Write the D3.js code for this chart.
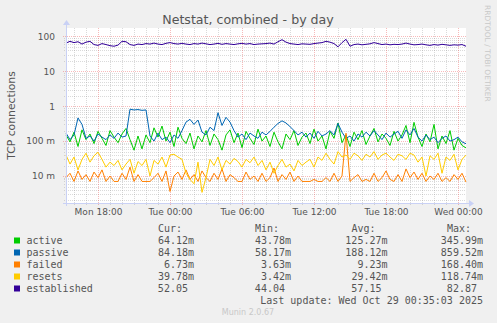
<!DOCTYPE html>
<html>
<head>
<meta charset="utf-8">
<script src="https://cdn.jsdelivr.net/npm/d3@7"></script>
<style>
body { margin: 0; background: #f0f0f0; }
text { font-family: "DejaVu Sans", sans-serif; fill: #555; }
.mono { font-family: "DejaVu Sans Mono", monospace; font-size: 10px; }
</style>
</head>
<body>
<script>
// series, in draw order
const seriesNames = ["active", "passive", "failed", "resets", "established"];
const seriesColors = ["#00cc00", "#0066b3", "#ff8000", "#ffcc00", "#330099"];

// legend stats as printed by munin
const curVals = ["64.12m", "84.18m", "6.73m", "39.78m", "52.05"];
const minVals = ["43.78m", "58.17m", "3.63m", "3.42m", "44.04"];
const avgVals = ["125.27m", "188.12m", "9.23m", "29.42m", "57.15"];
const maxVals = ["345.99m", "859.52m", "168.40m", "118.74m", "82.87"];

const yTickVals = [0.01, 0.1, 1, 10, 100];
const yTickLabels = ["10 m", "100 m", "1", "10", "100"];

// one sample every 20 minutes, Mon 15:20 -> Wed 00:40 (UTC)
const startTime = Date.UTC(2025, 9, 27, 15, 20);
const endTime = Date.UTC(2025, 9, 29, 0, 40);
const stepMin = 20;

// values in milli (m) for the first four, plain for established
const activeVals = [150, 95, 180, 70, 210, 110, 160, 85, 190, 120,
  75, 200, 130, 90, 160, 230, 110, 55, 140, 60,
  150, 90, 240, 130, 270, 100, 180, 70, 250, 120,
  85, 170, 60, 140, 95, 200, 75, 160, 110, 55,
  150, 210, 90, 170, 65, 190, 120, 80, 220, 100,
  140, 70, 180, 95, 60, 160, 110, 200, 75, 130,
  170, 85, 220, 100, 140, 60, 190, 120, 330, 90,
  150, 70, 180, 110, 200, 80, 140, 230, 95, 160,
  120, 75, 190, 100, 150, 280, 90, 345, 130, 70,
  160, 95, 300, 60, 140, 85, 200, 55, 120, 75, 64];
const passiveVals = [170, 110, 150, 460, 300, 120, 140, 100, 160, 130,
  110, 150, 120, 170, 130, 140, 820, 780, 800, 760,
  780, 140, 100, 170, 110, 130, 90, 150, 120, 200,
  350, 420, 300, 400, 180, 150, 250, 200, 650, 280,
  480, 350, 200, 130, 160, 110, 170, 140, 120, 180,
  150, 190, 250, 320, 380, 330, 260, 200, 150, 180,
  130, 170, 120, 190, 140, 160, 200, 150, 320, 180,
  120, 140, 100, 160, 130, 180, 140, 200, 150, 110,
  170, 130, 160, 190, 120, 210, 150, 230, 130, 100,
  150, 110, 130, 90, 120, 140, 100, 110, 130, 95, 84];
const failedVals = [9, 12, 7, 14, 8, 11, 7, 13, 9, 15,
  7, 10, 7, 7, 12, 8, 18, 7, 11, 7,
  7, 7, 9, 12, 7, 14, 3.6, 10, 13, 8,
  15, 8, 11, 7, 14, 9, 7, 12, 8, 16,
  7, 11, 9, 7, 7, 13, 8, 10, 7, 12,
  7, 9, 17, 7, 11, 8, 13, 7, 10, 7,
  7, 7, 8, 7, 7, 9, 7, 12, 7, 10,
  168, 7, 9, 11, 7, 8, 7, 12, 7, 9,
  14, 8, 7, 11, 7, 16, 9, 13, 8, 12,
  7, 10, 8, 12, 7, 9, 7, 11, 8, 12, 6.7];
const resetsVals = [40, 22, 35, 15, 30, 45, 25, 38, 48, 30,
  18, 25, 20, 28, 15, 22, 30, 12, 26, 20,
  30, 10, 28, 22, 35, 18, 40, 42, 35, 30,
  12, 8, 6, 25, 3.4, 9, 30, 20, 35, 15,
  28, 22, 32, 26, 18, 30, 24, 35, 20, 28,
  15, 25, 12, 20, 30, 18, 22, 14, 28, 20,
  25, 30, 18, 35, 28, 45, 30, 22, 50, 35,
  40, 30, 45, 38, 28, 42, 35, 50, 30, 40,
  45, 35, 28, 42, 38, 30, 45, 40, 25, 35,
  10, 38, 30, 45, 12, 35, 28, 42, 15, 30, 39.78];
const establishedVals = [64, 72, 66, 70, 60, 68, 72, 58, 55, 62,
  58, 54, 52, 56, 72, 70, 58, 55, 60, 58,
  62, 60, 64, 60, 58, 63, 66, 62, 60, 63,
  60, 58, 62, 60, 64, 61, 58, 60, 63, 59,
  62, 60, 58, 61, 63, 60, 62, 58, 60, 61,
  62, 64, 60, 70, 80, 68, 62, 60, 58, 61,
  60, 59, 62, 64, 66, 72, 68, 62, 50, 66,
  82, 52, 58, 60, 57, 59, 61, 66, 62, 58,
  60, 57, 59, 58, 60, 64, 60, 57, 58, 60,
  57, 55, 58, 56, 59, 57, 55, 57, 56, 58, 52.05];

const seriesVals = [
  activeVals.map(v => v / 1000),
  passiveVals.map(v => v / 1000),
  failedVals.map(v => v / 1000),
  resetsVals.map(v => v / 1000),
  establishedVals
];

const svg = d3.select("body").append("svg")
  .attr("width", 497)
  .attr("height", 323);

const plotLeft = 66, plotRight = 466, plotTop = 28, plotBottom = 203;

const x = d3.scaleUtc()
  .domain([new Date(startTime), new Date(endTime)])
  .range([plotLeft, plotRight]);

const y = d3.scaleLog()
  .domain([0.00169, 173])
  .range([plotBottom, plotTop]);

// canvas
svg.append("rect")
  .attr("x", plotLeft).attr("y", plotTop)
  .attr("width", plotRight - plotLeft).attr("height", plotBottom - plotTop)
  .attr("fill", "#fff");

// grid - minor hours and 2..9 per decade
const hours = d3.utcHour.range(new Date(startTime), new Date(endTime));
const minorY = [];
d3.range(-3, 3).forEach(k => {
  d3.range(2, 10).forEach(m => {
    const v = m * Math.pow(10, k);
    if (v > y.domain()[0] && v < y.domain()[1]) minorY.push(v);
  });
});

const minorColor = "rgba(140,140,140,0.32)";
const majorColor = "rgba(235,90,90,0.42)";
const grid = svg.append("g").attr("shape-rendering", "crispEdges");

grid.selectAll(".minor-y")
  .data(minorY)
  .join("line")
  .attr("class", "minor-y")
  .attr("x1", plotLeft - 2).attr("x2", plotRight)
  .attr("y1", d => Math.round(y(d)) + 0.5).attr("y2", d => Math.round(y(d)) + 0.5)
  .attr("stroke", minorColor)
  .attr("stroke-dasharray", "1,1");

grid.selectAll(".minor-x")
  .data(hours.filter(d => d.getUTCHours() % 6 != 0))
  .join("line")
  .attr("class", "minor-x")
  .attr("x1", d => Math.round(x(d)) + 0.5).attr("x2", d => Math.round(x(d)) + 0.5)
  .attr("y1", plotTop).attr("y2", plotBottom + 2)
  .attr("stroke", minorColor)
  .attr("stroke-dasharray", "1,1");

grid.selectAll(".major-y")
  .data(yTickVals)
  .join("line")
  .attr("class", "major-y")
  .attr("x1", plotLeft - 3).attr("x2", plotRight)
  .attr("y1", d => Math.round(y(d)) + 0.5).attr("y2", d => Math.round(y(d)) + 0.5)
  .attr("stroke", majorColor)
  .attr("stroke-dasharray", "1,1");

grid.selectAll(".major-x")
  .data(hours.filter(d => d.getUTCHours() % 6 == 0))
  .join("line")
  .attr("class", "major-x")
  .attr("x1", d => Math.round(x(d)) + 0.5).attr("x2", d => Math.round(x(d)) + 0.5)
  .attr("y1", plotTop).attr("y2", plotBottom + 3)
  .attr("stroke", majorColor)
  .attr("stroke-dasharray", "1,1");

// lines
const line = d3.line()
  .x((d, i) => x(new Date(startTime + i * stepMin * 60000)))
  .y(d => y(d));

svg.selectAll(".series")
  .data(seriesVals)
  .join("path")
  .attr("class", "series")
  .attr("d", d => line(d))
  .attr("fill", "none")
  .attr("stroke", (d, i) => seriesColors[i])
  .attr("stroke-width", 1);

// axes arrows
const axisColor = "#c9d1f5";
svg.append("line")
  .attr("x1", plotLeft - 3).attr("x2", plotRight + 4)
  .attr("y1", plotBottom + 0.5).attr("y2", plotBottom + 0.5)
  .attr("stroke", axisColor);
svg.append("path")
  .attr("d", `M${plotRight + 3},${plotBottom - 3}L${plotRight + 8},${plotBottom + 0.5}L${plotRight + 3},${plotBottom + 4}Z`)
  .attr("fill", axisColor);
svg.append("line")
  .attr("x1", plotLeft + 0.5).attr("x2", plotLeft + 0.5)
  .attr("y1", plotBottom + 3).attr("y2", plotTop - 4)
  .attr("stroke", axisColor);
svg.append("path")
  .attr("d", `M${plotLeft - 3},${plotTop - 3}L${plotLeft + 0.5},${plotTop - 8}L${plotLeft + 4},${plotTop - 3}Z`)
  .attr("fill", axisColor);

// axis labels
const yAxis = svg.append("g")
  .attr("transform", `translate(${plotLeft},0)`)
  .call(d3.axisLeft(y).tickValues(yTickVals)
    .tickFormat((d, i) => yTickLabels[i]).tickSize(0).tickPadding(11));
yAxis.select(".domain").remove();
yAxis.selectAll("text")
  .attr("font-family", "DejaVu Sans").attr("font-size", 9).attr("fill", "#555");

const xAxis = svg.append("g")
  .attr("transform", `translate(0,${plotBottom})`)
  .call(d3.axisBottom(x).tickValues(hours.filter(d => d.getUTCHours() % 6 == 0))
    .tickFormat(d3.utcFormat("%a %H:%M")).tickSize(0).tickPadding(6));
xAxis.select(".domain").remove();
xAxis.selectAll("text")
  .attr("font-family", "DejaVu Sans").attr("font-size", 9).attr("fill", "#555");

// titles
svg.append("text")
  .attr("x", 248).attr("y", 24)
  .attr("text-anchor", "middle")
  .attr("font-size", 12.6)
  .text("Netstat, combined - by day");

svg.append("text")
  .attr("transform", "translate(15,115.5) rotate(-90)")
  .attr("text-anchor", "middle")
  .attr("font-size", 10.8)
  .text("TCP connections");

svg.append("text")
  .attr("transform", "translate(485,5) rotate(90)")
  .attr("font-size", 7.5)
  .style("fill", "#c8c8c8")
  .text("RRDTOOL / TOBI OETIKER");

// legend
const charW = 6.02;
const colRight = [194, 291, 387.5, 483];
const colHead = ["Cur:", "Min:", "Avg:", "Max:"];
const rowY = i => 243.5 + i * 12;

svg.selectAll(".head")
  .data(colHead)
  .join("text")
  .attr("class", "head mono")
  .attr("x", (d, i) => colRight[i] - 6 * charW)
  .attr("y", 231.5)
  .text(d => d);

svg.selectAll(".swatch")
  .data(seriesNames)
  .join("rect")
  .attr("class", "swatch")
  .attr("x", 14).attr("y", (d, i) => rowY(i) - 6)
  .attr("width", 6).attr("height", 6)
  .attr("fill", (d, i) => seriesColors[i]);

svg.selectAll(".name")
  .data(seriesNames)
  .join("text")
  .attr("class", "name mono")
  .attr("x", 26.5).attr("y", (d, i) => rowY(i))
  .text(d => d);

[curVals, minVals, avgVals, maxVals].forEach((vals, c) => {
  svg.selectAll(".col" + c)
    .data(vals)
    .join("text")
    .attr("class", "col" + c + " mono")
    .attr("x", d => colRight[c] - (d.endsWith("m") ? 0 : charW))
    .attr("y", (d, i) => rowY(i))
    .attr("text-anchor", "end")
    .text(d => d);
});

svg.append("text")
  .attr("class", "mono")
  .attr("x", 483).attr("y", 303.5)
  .attr("text-anchor", "end")
  .text("Last update: Wed Oct 29 00:35:03 2025");

svg.append("text")
  .attr("x", 248).attr("y", 315)
  .attr("text-anchor", "middle")
  .attr("font-size", 8)
  .style("fill", "#c8c8c8")
  .text("Munin 2.0.67");
</script>
</body>
</html>
